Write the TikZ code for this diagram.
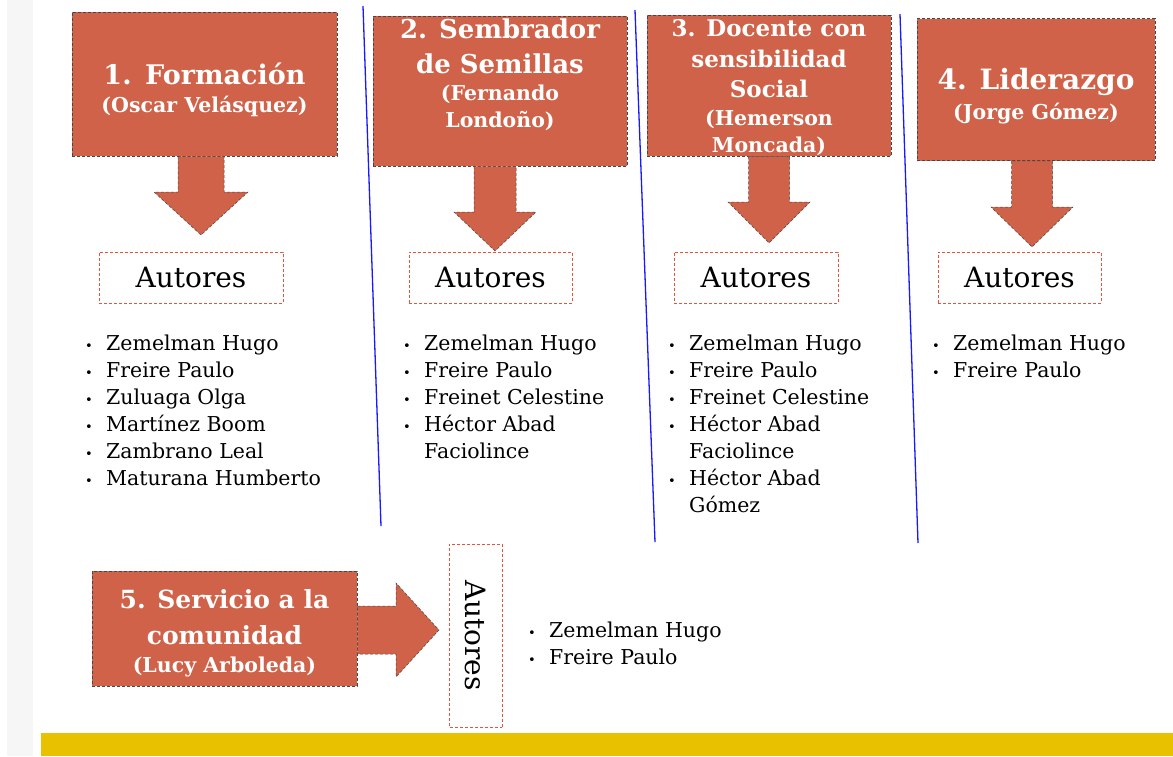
\documentclass[tikz,border=0pt]{standalone}
\usepackage{fontspec}
\setmainfont{DejaVu Serif}
\usetikzlibrary{calc}
\definecolor{boxred}{RGB}{207,98,72}
\definecolor{autred}{RGB}{226,85,60}
\definecolor{baryellow}{RGB}{232,193,0}
\newcommand{\itm}{\makebox[21pt][l]{\fontsize{13}{13}\selectfont\textbullet}}
\newcommand{\cnt}{\hspace*{21pt}}
\newcommand{\subsz}{\fontsize{20.5}{28}\selectfont}
\begin{document}
\begin{tikzpicture}[x=1pt, y=-1pt,
    titlebox/.style={rectangle, fill=boxred, draw=gray!55!black, densely dashed,
      line width=0.5pt, inner sep=0pt},
    boxtext/.style={text=white, align=center, inner sep=0pt},
    autbox/.style={rectangle, draw=autred, densely dashed, line width=0.8pt,
      fill=white, minimum height=51pt, inner sep=0pt, font=\fontsize{28}{34}\selectfont},
    blockarrow/.style={fill=boxred, draw=gray!55!black, densely dashed, line width=0.5pt},
    divider/.style={draw=blue!90!white, line width=1.3pt},
    namelist/.style={anchor=base west, inner sep=0pt, font=\fontsize{20.5}{27}\selectfont}]
    \useasboundingbox (0,0) rectangle (1173,756);
    % background
    \fill[white] (0,0) rectangle (1173,756);
    \fill[gray!7] (7,0) rectangle (33,756);
    \fill[baryellow] (41,733) rectangle (1173,756);
    % column separators
    \draw[divider] (363,6) -- (381,526);
    \draw[divider] (635,10) -- (655,542);
    \draw[divider] (900,14) -- (918,543);
    % competence boxes
    \node[titlebox, minimum width=265pt, minimum height=144pt,
      label={[boxtext, font=\bfseries\fontsize{27}{28}\selectfont, yshift=-6.1pt]center:%
        {1.\hspace{.5em}Formación\\{\subsz(Oscar Velásquez)}}}] (b1) at (204.5,84) {};
    \node[titlebox, minimum width=254pt, minimum height=150pt,
      label={[boxtext, font=\bfseries\fontsize{26}{27}\selectfont, yshift=16.5pt]center:%
        {2. Sembrador\\[8pt]de Semillas\\{\subsz(Fernando}\\{\subsz Londoño)}}}] (b2) at (500,91) {};
    \node[titlebox, minimum width=244pt, minimum height=141pt,
      label={[boxtext, font=\bfseries\fontsize{23}{27}\selectfont, yshift=-2.2pt]center:%
        {3. Docente con\\[4pt]sensibilidad\\[3pt]Social\\[1pt]{\subsz(Hemerson}\\{\subsz Moncada)}}}] (b3) at (769,85.5) {};
    \node[titlebox, minimum width=238pt, minimum height=142pt,
      label={[boxtext, font=\bfseries\fontsize{28}{30}\selectfont, yshift=-6.9pt]center:%
        {4. Liderazgo\\{\subsz(Jorge Gómez)}}}] (b4) at (1036,89.5) {};
    \node[titlebox, minimum width=265pt, minimum height=115pt,
      label={[boxtext, font=\bfseries\fontsize{25}{28}\selectfont, yshift=-4.9pt]center:%
        {5. Servicio a la\\[8pt]comunidad\\{\subsz(Lucy Arboleda)}}}] (b5) at (224.5,628.5) {};
    % arrow tips
    \coordinate (t1) at (201,235);
    \coordinate (t2) at (495,251);
    \coordinate (t3) at (769,243);
    \coordinate (t4) at (1032,247);
    \coordinate (t5) at (439,630);
    % block arrows
    \foreach \b/\t/\s/\h/\l in {b1/t1/23/47/43, b2/t2/21/41/39, b3/t3/20.5/41/41, b4/t4/20.5/41/40}
    \filldraw[blockarrow] let \p1=(\b.south), \p2=(\t) in
        (\x2-\s*1pt,\y1) -- (\x2-\s*1pt,\y2+\l*1pt) -- (\x2-\h*1pt,\y2+\l*1pt) -- (\p2)
        -- (\x2+\h*1pt,\y2+\l*1pt) -- (\x2+\s*1pt,\y2+\l*1pt) -- (\x2+\s*1pt,\y1) -- cycle;
    \filldraw[blockarrow] let \p1=(b5.east), \p2=(t5) in
        (\x1,\y2+24pt) -- (\x2-43pt,\y2+24pt) -- (\x2-43pt,\y2+47pt) -- (\p2)
        -- (\x2-43pt,\y2-47pt) -- (\x2-43pt,\y2-24pt) -- (\x1,\y2-24pt) -- cycle;
    % author boxes
    \foreach \n/\x/\w in {1/191/184pt, 2/490.5/163pt, 3/756/164pt, 4/1019.5/163pt}
    \node[autbox, minimum width=\w] (a\n) at (\x,277.5) {Autores};
    \node[autbox, rotate=-90, minimum width=183pt, minimum height=53pt] (a5) at (475.5,635.5) {Autores};
    % author lists
    \node[namelist] (l1) at (85,350) {\begin{tabular}[t]{@{}l@{}}
        \itm Zemelman Hugo\\ \itm Freire Paulo\\ \itm Zuluaga Olga\\
        \itm Martínez Boom\\ \itm Zambrano Leal\\ \itm Maturana Humberto\end{tabular}};
    \node[namelist] (l2) at (403,350) {\begin{tabular}[t]{@{}l@{}}
        \itm Zemelman Hugo\\ \itm Freire Paulo\\ \itm Freinet Celestine\\
        \itm Héctor Abad\\ \cnt Faciolince\end{tabular}};
    \node[namelist] (l3) at (668,350) {\begin{tabular}[t]{@{}l@{}}
        \itm Zemelman Hugo\\ \itm Freire Paulo\\ \itm Freinet Celestine\\
        \itm Héctor Abad\\ \cnt Faciolince\\ \itm Héctor Abad\\ \cnt Gómez\end{tabular}};
    \node[namelist] (l4) at (932,350) {\begin{tabular}[t]{@{}l@{}}
        \itm Zemelman Hugo\\ \itm Freire Paulo\end{tabular}};
    \node[namelist] (l5) at (528,637) {\begin{tabular}[t]{@{}l@{}}
        \itm Zemelman Hugo\\ \itm Freire Paulo\end{tabular}};
\end{tikzpicture}
\end{document}
